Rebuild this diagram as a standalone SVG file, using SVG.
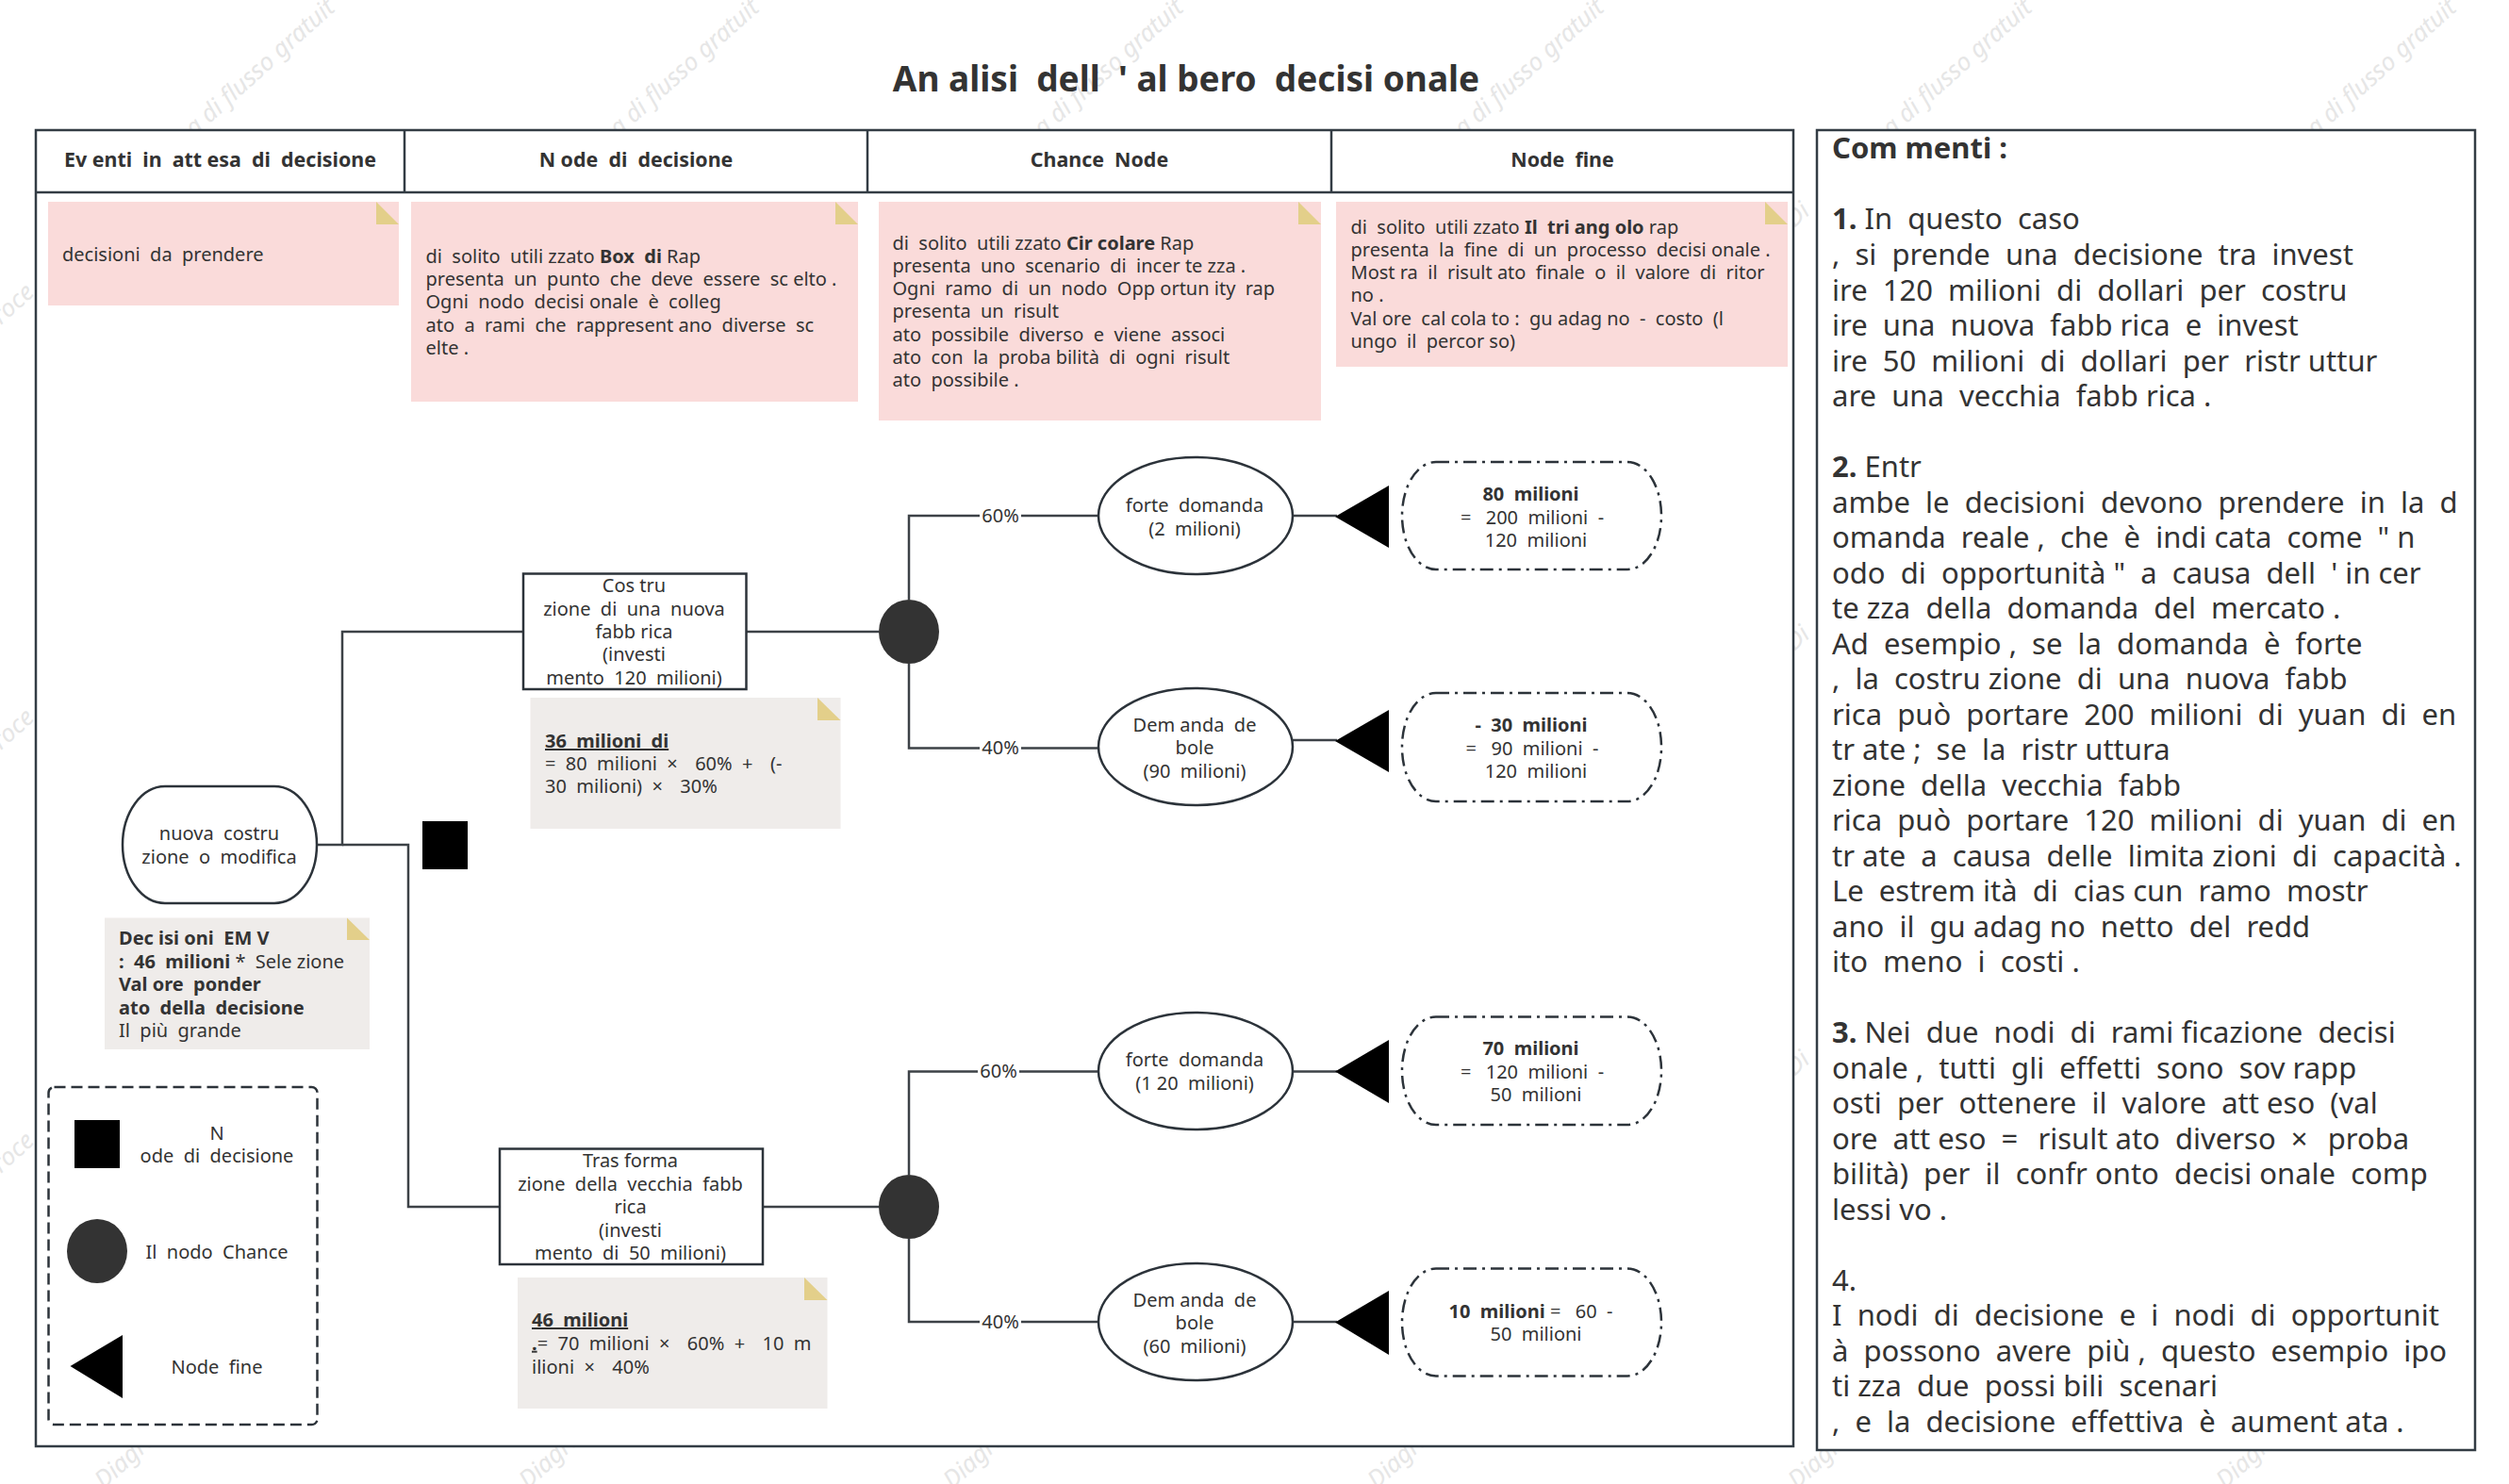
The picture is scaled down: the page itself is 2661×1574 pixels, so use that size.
<svg xmlns="http://www.w3.org/2000/svg" width="2661" height="1574" viewBox="0 0 2661 1574">
<style>
text{font-family:"Noto Sans","Open Sans",sans-serif;fill:#333;white-space:pre;font-size:20px}
.b{font-weight:700}
.m{text-anchor:middle}
.h{font-weight:700;font-size:21.400px;text-anchor:middle}
.c{font-size:31px}
.wm{font-size:26px;font-style:italic;fill:#e6e6e6}
.pk{fill:#fadbda}.gr{fill:#efecea}.fold{fill:#e3cf8a}
.ln{fill:none;stroke:#3d4247;stroke-width:2.5}
.frame{fill:#fff;stroke:#333c44;stroke-width:2.5}
.nd{fill:#fff;stroke:#2c333a;stroke-width:2.5}
.dd{fill:#fff;stroke:#2c333a;stroke-width:2.5;stroke-dasharray:14 6 3 6}
.k{fill:#000}.dk{fill:#333}
.lab{fill:#fff}
</style>
<rect width="2661" height="1574" fill="#fff"/>
<g id="watermarks">
<text class="wm" transform="translate(206 146) rotate(-42)">a di flusso gratuit</text>
<text class="wm" transform="translate(656 146) rotate(-42)">a di flusso gratuit</text>
<text class="wm" transform="translate(1106 146) rotate(-42)">a di flusso gratuit</text>
<text class="wm" transform="translate(1552 146) rotate(-42)">a di flusso gratuit</text>
<text class="wm" transform="translate(2006 146) rotate(-42)">a di flusso gratuit</text>
<text class="wm" transform="translate(2456 146) rotate(-42)">a di flusso gratuit</text>
<text class="wm" transform="translate(110 1580) rotate(-42)">Diagra</text>
<text class="wm" transform="translate(560 1580) rotate(-42)">Diagra</text>
<text class="wm" transform="translate(1010 1580) rotate(-42)">Diagra</text>
<text class="wm" transform="translate(1460 1580) rotate(-42)">Diagra</text>
<text class="wm" transform="translate(1906 1580) rotate(-42)">Diagra</text>
<text class="wm" transform="translate(2360 1580) rotate(-42)">Diagra</text>
<text class="wm" transform="translate(1 345) rotate(-42)">roce</text>
<text class="wm" transform="translate(1 796) rotate(-42)">roce</text>
<text class="wm" transform="translate(1 1245) rotate(-42)">roce</text>
<text class="wm" transform="translate(1903 242) rotate(-42)">Di</text>
<text class="wm" transform="translate(1903 691) rotate(-42)">Di</text>
<text class="wm" transform="translate(1903 1142) rotate(-42)">Di</text>
</g>
<text id="title" class="b m" style="font-size:37px" x="1258" y="97">An alisi  dell  ' al bero  decisi onale</text>
<g id="table">
<rect class="frame" x="38" y="138" width="1864" height="1396"/>
<path class="frame" d="M38 204H1902M429 138V204M920 138V204M1412 138V204"/>
<text class="h" x="233.500" y="177">Ev enti  in  att esa  di  decisione</text>
<text class="h" x="674.500" y="177">N ode  di  decisione</text>
<text class="h" x="1166" y="177">Chance  Node</text>
<text class="h" x="1657" y="177">Node  fine</text>
</g>
<g id="note-events">
<rect class="pk" x="51" y="214" width="372" height="110"/><path class="fold" d="M399 214L423 238H399Z"/>
<text x="66" y="277">decisioni  da  prendere</text>
</g>
<g id="note-decision">
<rect class="pk" x="436" y="214" width="474" height="212"/><path class="fold" d="M886 214L910 238H886Z"/>
<text x="451.500" y="278.500">di  solito  utili zzato <tspan class="b">Box  di </tspan>Rap</text>
<text x="451.500" y="302.800">presenta  un  punto  che  deve  essere  sc elto .</text>
<text x="451.500" y="327.100">Ogni  nodo  decisi onale  è  colleg</text>
<text x="451.500" y="351.500">ato  a  rami  che  rappresent ano  diverse  sc</text>
<text x="451.500" y="376">elte .</text>
</g>
<g id="note-chance">
<rect class="pk" x="932" y="214" width="469" height="232"/><path class="fold" d="M1377 214L1401 238H1377Z"/>
<text x="946.500" y="264.500">di  solito  utili zzato <tspan class="b">Cir colare </tspan>Rap</text>
<text x="946.500" y="288.800">presenta  uno  scenario  di  incer te zza .</text>
<text x="946.500" y="313">Ogni  ramo  di  un  nodo  Opp ortun ity  rap</text>
<text x="946.500" y="337.300">presenta  un  risult</text>
<text x="946.500" y="361.500">ato  possibile  diverso  e  viene  associ</text>
<text x="946.500" y="385.800">ato  con  la  proba bilità  di  ogni  risult</text>
<text x="946.500" y="410">ato  possibile .</text>
</g>
<g id="note-end">
<rect class="pk" x="1417" y="214" width="479" height="175"/><path class="fold" d="M1872 214L1896 238H1872Z"/>
<text x="1432.500" y="247.500">di  solito  utili zzato <tspan class="b">Il  tri ang olo </tspan>rap</text>
<text x="1432.500" y="271.800">presenta  la  fine  di  un  processo  decisi onale .</text>
<text x="1432.500" y="296">Most ra  il  risult ato  finale  o  il  valore  di  ritor</text>
<text x="1432.500" y="320.300">no .</text>
<text x="1432.500" y="344.500">Val ore  cal cola to :  gu adag no  -  costo  (l</text>
<text x="1432.500" y="368.800">ungo  il  percor so)</text>
</g>
<g id="connectors">
<path class="ln" d="M336 896H363V670H555"/>
<path class="ln" d="M363 896H433V1280H530"/>
<path class="ln" d="M791 670H932"/>
<path class="ln" d="M964 636V547H1165"/>
<path class="ln" d="M964 704V793.500H1165"/>
<path class="ln" d="M1371 547H1418"/>
<path class="ln" d="M1371 785H1418"/>
<path class="ln" d="M809 1280H932"/>
<path class="ln" d="M964 1246V1136.500H1165"/>
<path class="ln" d="M964 1314V1402H1165"/>
<path class="ln" d="M1371 1136.500H1418"/>
<path class="ln" d="M1371 1402H1418"/>
<rect class="lab" x="1039" y="535" width="44" height="24"/><text class="m" x="1061" y="554">60%</text>
<rect class="lab" x="1039" y="781" width="44" height="24"/><text class="m" x="1061" y="800">40%</text>
<rect class="lab" x="1037" y="1124" width="44" height="24"/><text class="m" x="1059" y="1143">60%</text>
<rect class="lab" x="1039" y="1390" width="44" height="24"/><text class="m" x="1061" y="1409">40%</text>
</g>
<g id="start">
<rect class="nd" x="130" y="834" width="206" height="124" rx="45" ry="62"/>
<text class="m" x="232.500" y="891">nuova  costru</text>
<text class="m" x="232.500" y="915.500">zione  o  modifica</text>
</g>
<g id="note-emv">
<rect class="gr" x="111" y="973.500" width="281" height="139.500"/><path class="fold" d="M368 973.500L392 997H368Z"/>
<text class="b" x="126" y="1002">Dec isi oni  EM V</text>
<text x="126" y="1026.500"><tspan class="b">:  46  milioni </tspan>*  Sele zione</text>
<text class="b" x="126" y="1051">Val ore  ponder</text>
<text class="b" x="126" y="1075.500">ato  della  decisione</text>
<text x="126" y="1100">Il  più  grande</text>
</g>
<g id="decision-square"><rect class="k" x="448" y="871" width="48" height="51"/></g>
<g id="box-new">
<rect class="nd" x="555" y="608.500" width="236.500" height="122.500"/>
<text class="m" x="672.500" y="628">Cos tru</text>
<text class="m" x="672.500" y="652.500">zione  di  una  nuova</text>
<text class="m" x="672.500" y="677">fabb rica</text>
<text class="m" x="672.500" y="701">(investi</text>
<text class="m" x="672.500" y="725.500">mento  120  milioni)</text>
</g>
<g id="note-36">
<rect class="gr" x="562.500" y="740" width="329" height="139"/><path class="fold" d="M867 740L891.500 764H867Z"/>
<text class="b" x="578" y="793" text-decoration="underline">36  milioni  di</text>
<text x="578" y="817">=  80  milioni  ×<tspan dx="8">  60%  +</tspan><tspan dx="8">  (-</tspan></text>
<text x="578" y="841">30  milioni)  ×<tspan dx="8">  30%</tspan></text>
</g>
<g id="chance-1"><ellipse class="dk" cx="964" cy="670" rx="32" ry="34"/></g>
<g id="event-1">
<ellipse class="nd" cx="1268" cy="547" rx="103" ry="62"/>
<text class="m" x="1267" y="543">forte  domanda</text>
<text class="m" x="1267" y="567.500">(2  milioni)</text>
</g>
<g id="event-2">
<ellipse class="nd" cx="1268" cy="792" rx="103" ry="62"/>
<text class="m" x="1267" y="775.500">Dem anda  de</text>
<text class="m" x="1267" y="800">bole</text>
<text class="m" x="1267" y="824.500">(90  milioni)</text>
</g>
<g id="end-1"><path class="k" d="M1416 548L1473 515V581Z"/></g>
<g id="end-2"><path class="k" d="M1416 786L1473 753V819Z"/></g>
<g id="value-1">
<rect class="dd" x="1487" y="490" width="275" height="114" rx="36" ry="57"/>
<text class="b m" x="1623.500" y="531">80  milioni</text>
<text class="m" x="1625" y="555.500">=<tspan dx="5">  200  milioni  -</tspan></text>
<text class="m" x="1629" y="580">120  milioni</text>
</g>
<g id="value-2">
<rect class="dd" x="1487" y="735" width="275" height="115" rx="36" ry="57"/>
<text class="b m" x="1624" y="776">-  30  milioni</text>
<text class="m" x="1625" y="800.500">=<tspan dx="5">  90  milioni  -</tspan></text>
<text class="m" x="1629" y="825">120  milioni</text>
</g>
<g id="box-refit">
<rect class="nd" x="530" y="1218.500" width="279" height="122.500"/>
<text class="m" x="668.500" y="1238">Tras forma</text>
<text class="m" x="668.500" y="1263">zione  della  vecchia  fabb</text>
<text class="m" x="668.500" y="1287">rica</text>
<text class="m" x="668.500" y="1311.500">(investi</text>
<text class="m" x="668.500" y="1336">mento  di  50  milioni)</text>
</g>
<g id="note-46">
<rect class="gr" x="549" y="1355" width="328.500" height="139"/><path class="fold" d="M853 1355L877.500 1379H853Z"/>
<text class="b" x="564" y="1407" text-decoration="underline">46  milioni</text>
<text x="564" y="1431.700"><tspan class="b" text-decoration="underline">.</tspan>=  70  milioni  ×<tspan dx="8">  60%  +</tspan><tspan dx="8">  10  m</tspan></text>
<text x="564" y="1456.700">ilioni  ×<tspan dx="8">  40%</tspan></text>
</g>
<g id="chance-2"><ellipse class="dk" cx="964" cy="1280" rx="32" ry="34"/></g>
<g id="event-3">
<ellipse class="nd" cx="1268" cy="1136" rx="103" ry="62"/>
<text class="m" x="1267" y="1131">forte  domanda</text>
<text class="m" x="1267" y="1156">(1 20  milioni)</text>
</g>
<g id="event-4">
<ellipse class="nd" cx="1268" cy="1402" rx="103" ry="62"/>
<text class="m" x="1267" y="1386">Dem anda  de</text>
<text class="m" x="1267" y="1410">bole</text>
<text class="m" x="1267" y="1434.500">(60  milioni)</text>
</g>
<g id="end-3"><path class="k" d="M1416 1136.500L1473 1103V1170Z"/></g>
<g id="end-4"><path class="k" d="M1416 1402.500L1473 1369V1437Z"/></g>
<g id="value-3">
<rect class="dd" x="1487" y="1078.500" width="275" height="114.500" rx="36" ry="57"/>
<text class="b m" x="1623.500" y="1119">70  milioni</text>
<text class="m" x="1625" y="1143.500">=<tspan dx="5">  120  milioni  -</tspan></text>
<text class="m" x="1629" y="1168">50  milioni</text>
</g>
<g id="value-4">
<rect class="dd" x="1487" y="1345.500" width="275" height="114" rx="36" ry="57"/>
<text class="m" x="1623.500" y="1397.500"><tspan class="b">10  milioni </tspan>=<tspan dx="5">  60  -</tspan></text>
<text class="m" x="1629" y="1422">50  milioni</text>
</g>
<g id="legend">
<rect x="51.500" y="1153" width="285" height="358" rx="6" fill="none" stroke="#2c333a" stroke-width="2.500" stroke-dasharray="12 6"/>
<rect class="k" x="79" y="1188" width="48" height="51"/>
<ellipse class="dk" cx="103" cy="1327" rx="32" ry="34"/>
<path class="k" d="M74.500 1449L130 1416V1483Z"/>
<text class="m" x="230" y="1209">N</text>
<text class="m" x="230" y="1233">ode  di  decisione</text>
<text class="m" x="230" y="1335">Il  nodo  Chance</text>
<text class="m" x="230" y="1457">Node  fine</text>
</g>
<g id="comments">
<rect class="frame" x="1927" y="138" width="698" height="1400"/>
<text class="c b" x="1943" y="168">Com menti :</text>
<text class="c" x="1943" y="243"><tspan class="b">1. </tspan>In  questo  caso</text>
<text class="c" x="1943" y="281">,  si  prende  una  decisione  tra  invest</text>
<text class="c" x="1943" y="318.500">ire  120  milioni  di  dollari  per  costru</text>
<text class="c" x="1943" y="356">ire  una  nuova  fabb rica  e  invest</text>
<text class="c" x="1943" y="393.500">ire  50  milioni  di  dollari  per  ristr uttur</text>
<text class="c" x="1943" y="431">are  una  vecchia  fabb rica .</text>
<text class="c" x="1943" y="506"><tspan class="b">2. </tspan>Entr</text>
<text class="c" x="1943" y="543.500">ambe  le  decisioni  devono  prendere  in  la  d</text>
<text class="c" x="1943" y="581">omanda  reale ,  che  è  indi cata  come  " n</text>
<text class="c" x="1943" y="618.500">odo  di  opportunità "  a  causa  dell  ' in cer</text>
<text class="c" x="1943" y="656">te zza  della  domanda  del  mercato .</text>
<text class="c" x="1943" y="693.500">Ad  esempio ,  se  la  domanda  è  forte</text>
<text class="c" x="1943" y="731">,  la  costru zione  di  una  nuova  fabb</text>
<text class="c" x="1943" y="768.500">rica  può  portare  200  milioni  di  yuan  di  en</text>
<text class="c" x="1943" y="806">tr ate ;  se  la  ristr uttura</text>
<text class="c" x="1943" y="843.500">zione  della  vecchia  fabb</text>
<text class="c" x="1943" y="881">rica  può  portare  120  milioni  di  yuan  di  en</text>
<text class="c" x="1943" y="918.500">tr ate  a  causa  delle  limita zioni  di  capacità .</text>
<text class="c" x="1943" y="956">Le  estrem ità  di  cias cun  ramo  mostr</text>
<text class="c" x="1943" y="993.500">ano  il  gu adag no  netto  del  redd</text>
<text class="c" x="1943" y="1031">ito  meno  i  costi .</text>
<text class="c" x="1943" y="1106"><tspan class="b">3. </tspan>Nei  due  nodi  di  rami ficazione  decisi</text>
<text class="c" x="1943" y="1143.500">onale ,  tutti  gli  effetti  sono  sov rapp</text>
<text class="c" x="1943" y="1181">osti  per  ottenere  il  valore  att eso  (val</text>
<text class="c" x="1943" y="1218.500">ore  att eso  =<tspan dx="5">  risult ato  diverso  ×</tspan><tspan dx="5">  proba</tspan></text>
<text class="c" x="1943" y="1256">bilità)  per  il  confr onto  decisi onale  comp</text>
<text class="c" x="1943" y="1293.500">lessi vo .</text>
<text class="c" x="1943" y="1368.500">4.</text>
<text class="c" x="1943" y="1406">I  nodi  di  decisione  e  i  nodi  di  opportunit</text>
<text class="c" x="1943" y="1443.500">à  possono  avere  più ,  questo  esempio  ipo</text>
<text class="c" x="1943" y="1481">ti zza  due  possi bili  scenari</text>
<text class="c" x="1943" y="1518.500">,  e  la  decisione  effettiva  è  aument ata .</text>
</g>
</svg>
